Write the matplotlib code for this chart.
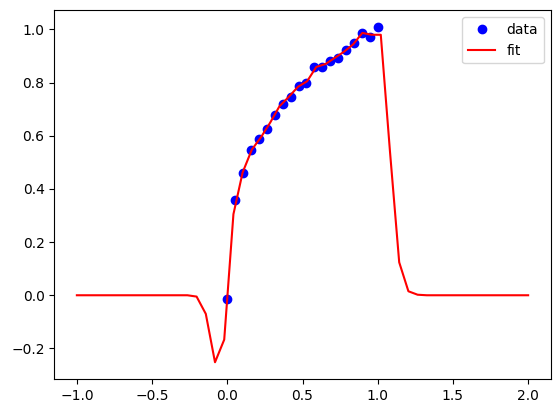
import numpy as np
import matplotlib
matplotlib.use("Agg")
import matplotlib.pyplot as plt

# data points
x_data = np.linspace(0, 1, 20)
y_data = [-0.014, 0.360, 0.461, 0.548, 0.586, 0.626, 0.680, 0.721, 0.744, 0.787,
          0.800, 0.857, 0.857, 0.882, 0.894, 0.923, 0.948, 0.985, 0.970, 1.009]

# fit curve
x_fit = np.linspace(-1, 2, 50)
y_fit = [0.0] * 13 + [-0.005, -0.070, -0.252, -0.167, 0.305, 0.462, 0.548, 0.595,
                      0.650, 0.711, 0.746, 0.784, 0.805, 0.859, 0.870, 0.893, 0.916,
                      0.944, 0.987, 0.980, 0.980, 0.540, 0.124, 0.015, 0.002] + [0.0] * 12

W, H = 559, 413
fig = plt.figure(figsize=(W / 100, H / 100), dpi=100)
ax = fig.add_axes([54.3 / W, (H - 379) / H, (550.7 - 54.3) / W, (379 - 10.3) / H])
ax.plot(x_data, y_data, 'bo', label='data')
ax.plot(x_fit, y_fit, 'r-', label='fit')
ax.legend(loc='upper right')
fig.savefig('out.png', dpi=100)
